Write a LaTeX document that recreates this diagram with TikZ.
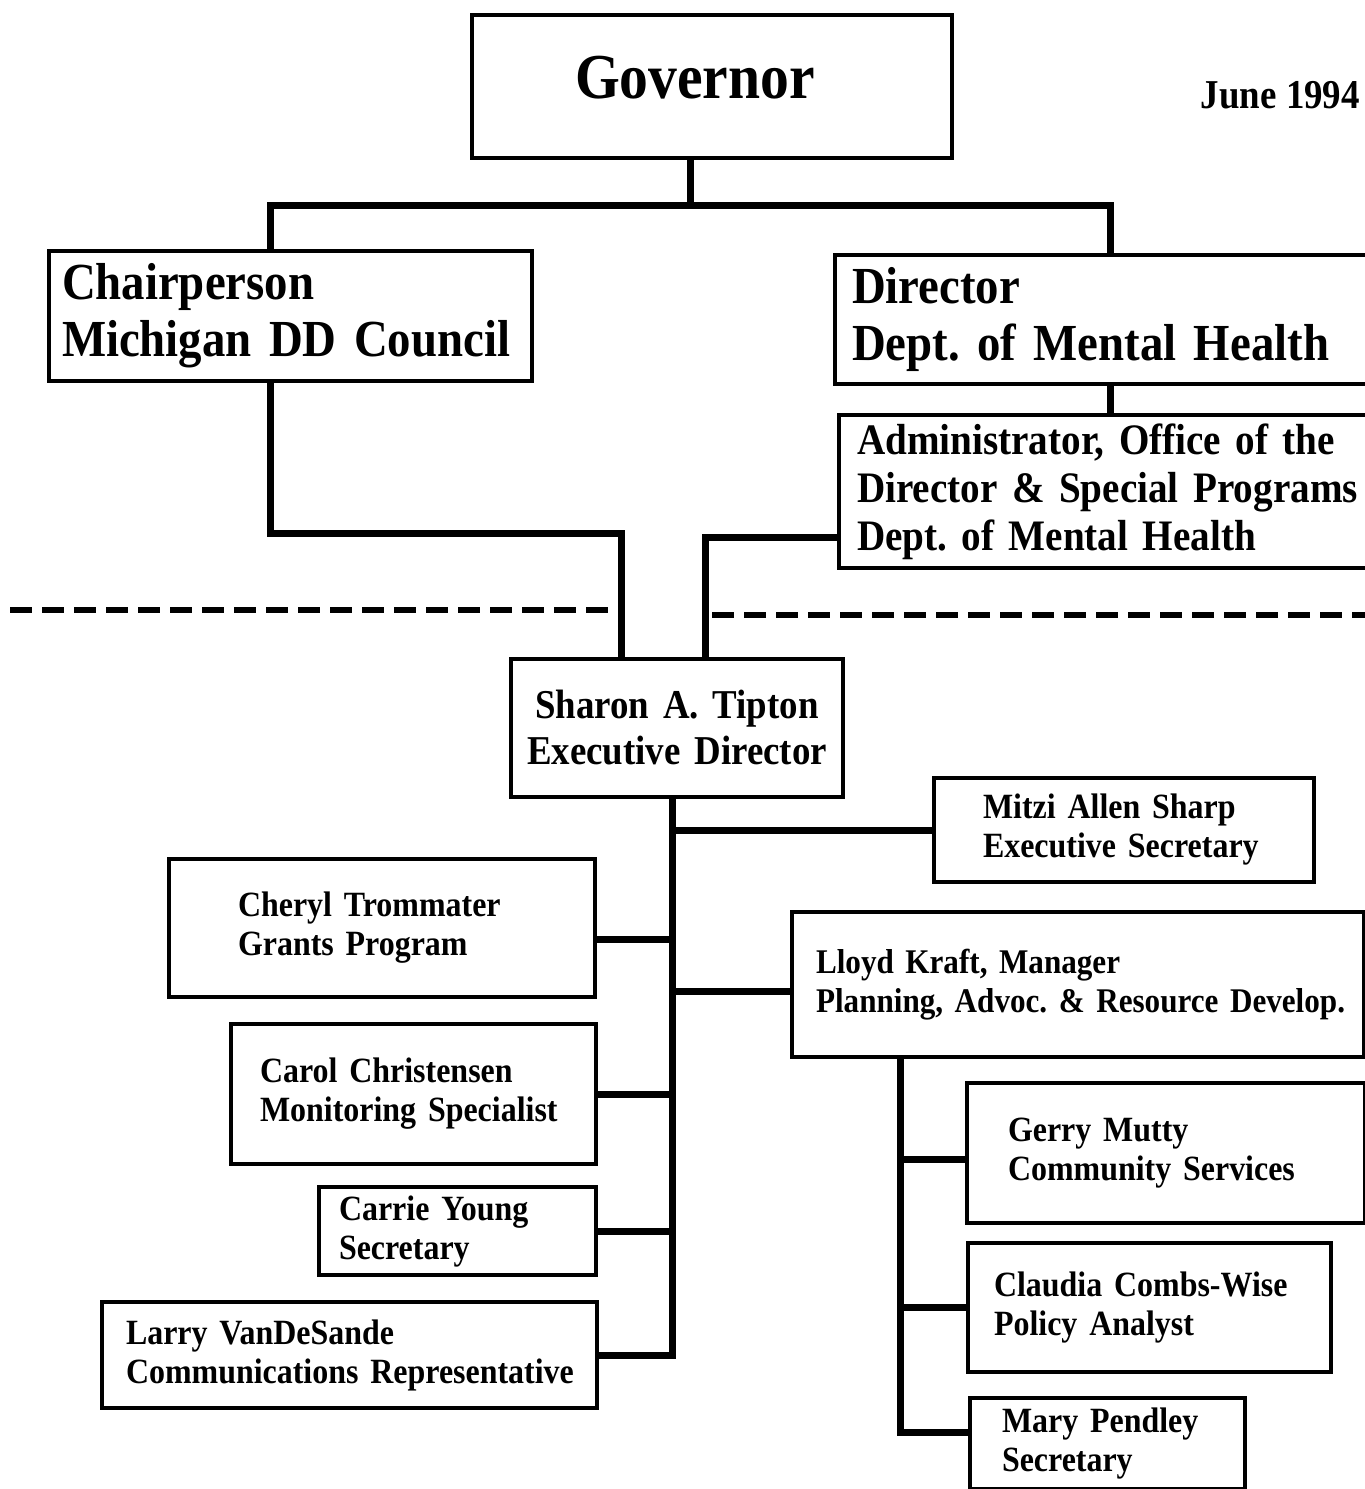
\documentclass[tikz,border=0pt]{standalone}
\usepackage{fontspec}
\setmainfont{Liberation Serif}[FakeStretch=0.9]
\usepackage{tikz}
\usetikzlibrary{positioning}

\newcommand{\govfont}{\fontsize{64}{70}\selectfont\bfseries}
\newcommand{\headfont}{\fontsize{52}{57}\selectfont\bfseries}
\newcommand{\admfont}{\fontsize{43.5}{48}\selectfont\bfseries}
\newcommand{\tipfont}{\fontsize{41}{46}\selectfont\bfseries}
\newcommand{\stafffont}{\fontsize{35.5}{39}\selectfont\bfseries\spaceskip=0.19em plus 0.05em}
\newcommand{\mgrfont}{\fontsize{34.6}{39}\selectfont\bfseries\spaceskip=0.19em plus 0.05em}

\tikzset{
  unit/.style={draw, line width=4pt, fill=white, anchor=north west, align=left, inner ysep=0pt,
    execute at begin node=\frenchspacing},
  link/.style={line width=7pt},
  sepline/.style={line width=6pt, dash pattern=on 22pt off 10pt},
}

\begin{document}
\begin{tikzpicture}[x=1pt,y=-1pt]
\useasboundingbox (0,0) rectangle (1365,1489);
\clip (0,0) rectangle (1365,1489);
%upper level
\node[unit, minimum width=480pt, minimum height=143pt, inner xsep=103pt, text width=274pt, text depth=19pt, font=\govfont] (gov) at (470,13) {Governor};
\node[anchor=base east, inner sep=0pt, font=\tipfont] (date) at (1360,108) {June 1994};
\node[unit, minimum width=483pt, minimum height=130pt, inner xsep=13pt, text width=457pt, font=\headfont] (chair) at (47,249) {Chairperson\\Michigan DD Council};
\node[unit, minimum width=560pt, minimum height=129pt, inner xsep=17pt, text width=526pt, font=\headfont] (dir) at (833,253) {Director\\Dept. of Mental Health};
\node[unit, minimum width=560pt, minimum height=153pt, inner xsep=18pt, text width=524pt, font=\admfont] (adm) at (837,413) {Administrator, Office of the\\Director \& Special Programs\\Dept. of Mental Health};
%council staff
\node[unit, minimum width=332pt, minimum height=138pt, inner xsep=10pt, text width=312pt, align=center, font=\tipfont] (tip) at (509,657) {Sharon A. Tipton\\Executive Director};
\node[unit, minimum width=380pt, minimum height=104pt, inner xsep=49pt, text width=282pt, font=\stafffont] (mitzi) at (932,776) {Mitzi Allen Sharp\\Executive Secretary};
\node[unit, minimum width=426pt, minimum height=138pt, inner xsep=69pt, text width=288pt, font=\stafffont] (cheryl) at (167,857) {Cheryl Trommater\\Grants Program};
\node[unit, minimum width=572pt, minimum height=145pt, inner xsep=24pt, text width=524pt, font=\mgrfont] (lloyd) at (790,910) {Lloyd Kraft, Manager\\\mbox{Planning, Advoc. \& Resource Develop.}};
\node[unit, minimum width=365pt, minimum height=140pt, inner xsep=29pt, text width=307pt, font=\stafffont] (carol) at (229,1022) {Carol Christensen\\Monitoring Specialist};
\node[unit, minimum width=277pt, minimum height=88pt, inner xsep=20pt, text width=237pt, font=\stafffont] (carrie) at (317,1185) {Carrie Young\\Secretary};
\node[unit, minimum width=495pt, minimum height=106pt, inner xsep=24pt, text width=447pt, font=\stafffont] (larry) at (100,1300) {Larry VanDeSande\\\mbox{Communications Representative}};
\node[unit, minimum width=398pt, minimum height=140pt, inner xsep=41pt, text width=316pt, font=\stafffont] (gerry) at (965,1081) {Gerry Mutty\\Community Services};
\node[unit, minimum width=363pt, minimum height=129pt, inner xsep=26pt, text width=311pt, font=\stafffont] (claudia) at (966,1241) {Claudia Combs-Wise\\Policy Analyst};
\node[unit, minimum width=275pt, minimum height=91pt, inner xsep=32pt, text width=211pt, font=\stafffont] (mary) at (968,1396) {Mary Pendley\\Secretary};
%connectors
\coordinate (busL) at (270,205);
\coordinate (busM) at (690,205);
\coordinate (busR) at (1110,205);
\coordinate (jogL) at (270,533);
\coordinate (dropL) at (621,533);
\coordinate (dropR) at (705,537);
\coordinate (spine) at (672,0);
\coordinate (lspine) at (900,0);
\draw[link] (gov.south -| busM) -- (busM);
\draw[link] (chair.north -| busL) -- (busL) -- (busR) -- (dir.north -| busR);
\draw[link] (dir.south -| busR) -- (adm.north -| busR);
\draw[link] (chair.south -| jogL) -- (jogL) -- (dropL) -- (tip.north -| dropL);
\draw[link] (adm.west |- dropR) -- (dropR) -- (tip.north -| dropR);
\draw[link] (tip.south -| spine) |- (larry.east);
\draw[link] (mitzi.west) -- (mitzi.west -| spine);
\draw[link] ([yshift=-11pt]cheryl.east) -- ([yshift=-11pt]cheryl.east -| spine);
\draw[link] ([yshift=-7pt]lloyd.west) -- ([yshift=-7pt]lloyd.west -| spine);
\draw[link] (carol.east) -- (carol.east -| spine);
\draw[link] (carrie.east) -- (carrie.east -| spine);
\draw[link] (lloyd.south -| lspine) |- ([yshift=11pt]mary.west);
\draw[link] ([yshift=-6pt]gerry.west) -- ([yshift=-6pt]gerry.west -| lspine);
\draw[link] (claudia.west) -- (claudia.west -| lspine);
%dashed boundary
\draw[sepline] (10,610) -- (615,610);
\draw[sepline] (712,615) -- (1365,615);
\end{tikzpicture}
\end{document}
